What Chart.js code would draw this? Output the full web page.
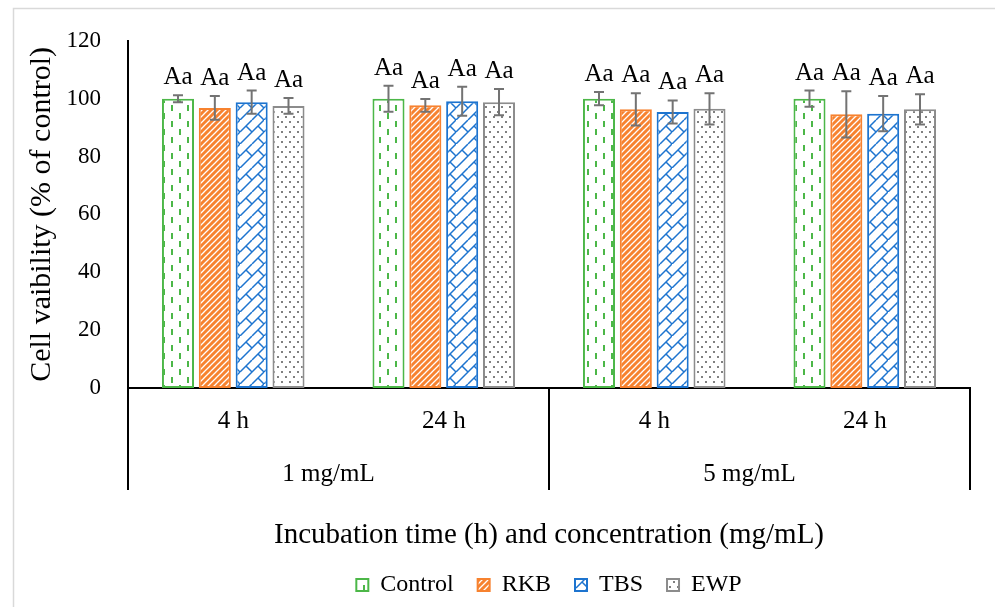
<!DOCTYPE html>
<html><head><meta charset="utf-8">
<script src="https://cdn.jsdelivr.net/npm/chart.js@4/dist/chart.umd.min.js"></script>
<style>html,body{margin:0;padding:0;background:#fff}</style>
</head><body>
<canvas id="c" width="995" height="607"></canvas>
<script>
// ---------- data ----------
const categories = ['4 h', '24 h', '4 h', '24 h'];
const concentrations = ['1 mg/mL', '5 mg/mL'];
const seriesNames = ['Control', 'RKB', 'TBS', 'EWP'];
const controlValues = [100, 100, 100, 100];
const rkbValues = [96.8, 97.7, 96.3, 94.6];
const tbsValues = [98.8, 99.1, 95.4, 94.8];
const ewpValues = [97.5, 98.8, 96.5, 96.3];
const controlErrors = [1.2, 4.5, 2.3, 2.8];
const rkbErrors = [4.1, 2.2, 5.6, 8.0];
const tbsErrors = [4.0, 5.0, 4.0, 6.1];
const ewpErrors = [2.7, 4.5, 5.4, 5.2];
const controlLetters = ['Aa', 'Aa', 'Aa', 'Aa'];
const rkbLetters = ['Aa', 'Aa', 'Aa', 'Aa'];
const tbsLetters = ['Aa', 'Aa', 'Aa', 'Aa'];
const ewpLetters = ['Aa', 'Aa', 'Aa', 'Aa'];
const yMin = 0, yMax = 120, yStep = 20;
const yTitle = 'Cell vaibility (% of control)';
const xTitle = 'Incubation time (h) and concentration (mg/mL)';

// ---------- styles ----------
const FONT = '"Liberation Serif", "Times New Roman", serif';
const GREEN = '#4cb748', ORANGE = '#f7822f', BLUE = '#1d74cf', GRAY = '#8c8c8c';

function tile(w, h, draw) {
  const c = document.createElement('canvas');
  c.width = w; c.height = h;
  const g = c.getContext('2d');
  draw(g);
  return document.getElementById('c').getContext('2d').createPattern(c, 'repeat');
}
const patControl = tile(16, 16, g => {
  g.fillStyle = '#fff'; g.fillRect(0, 0, 16, 16);
  g.fillStyle = GREEN;
  g.fillRect(3, 1, 2, 6);
  g.fillRect(11, 9, 2, 6);
});
const patRKB = tile(6, 6, g => {
  g.fillStyle = ORANGE; g.fillRect(0, 0, 6, 6);
  g.strokeStyle = '#fff'; g.lineWidth = 1.3;
  g.beginPath();
  g.moveTo(-1, 7); g.lineTo(7, -1);
  g.moveTo(-4, 4); g.lineTo(4, -4);
  g.moveTo(2, 10); g.lineTo(10, 2);
  g.stroke();
});
const patTBS = tile(24, 24, g => {
  g.fillStyle = '#fff'; g.fillRect(0, 0, 24, 24);
  g.strokeStyle = BLUE; g.lineWidth = 1.5;
  g.beginPath();
  g.moveTo(0, 12); g.lineTo(12, 0);
  g.moveTo(0, 24); g.lineTo(24, 0);
  g.moveTo(12, 24); g.lineTo(24, 12);
  g.moveTo(6, 6); g.lineTo(12, 12);
  g.moveTo(18, 6); g.lineTo(24, 12);
  g.moveTo(-6, 6); g.lineTo(0, 12);
  g.moveTo(6, 30); g.lineTo(12, 36);
  g.moveTo(18, 18); g.lineTo(24, 24);
  g.moveTo(-6, 18); g.lineTo(0, 24);
  g.stroke();
});
const patEWP = tile(8, 10, g => {
  g.fillStyle = '#fff'; g.fillRect(0, 0, 8, 10);
  g.fillStyle = '#808080';
  g.fillRect(1, 1, 2, 2);
  g.fillRect(5, 6, 2, 2);
});

function ds(label, data, errors, letters, bg, border) {
  return { label, data, errors, letters, backgroundColor: bg, borderColor: border,
           borderWidth: 2, borderSkipped: false,
           categoryPercentage: 0.7, barPercentage: 0.87 };
}

// ---------- plugins ----------
const framePlugin = {
  id: 'frame',
  beforeDraw(chart) {
    const { ctx } = chart;
    ctx.save();
    ctx.strokeStyle = '#d9d9d9'; ctx.lineWidth = 1.5;
    ctx.beginPath();
    ctx.moveTo(13.5, chart.height); ctx.lineTo(13.5, 8.5); ctx.lineTo(chart.width, 8.5);
    ctx.stroke();
    ctx.restore();
  }
};

const errorPlugin = {
  id: 'errorBars',
  afterDatasetsDraw(chart) {
    const { ctx } = chart;
    const y = chart.scales.y;
    chart.data.datasets.forEach((d, di) => {
      const meta = chart.getDatasetMeta(di);
      meta.data.forEach((bar, i) => {
        const v = d.data[i], e = d.errors[i];
        const yt = y.getPixelForValue(v + e), yb = y.getPixelForValue(v - e);
        ctx.save();
        ctx.strokeStyle = '#737373'; ctx.lineWidth = 2;
        ctx.beginPath();
        ctx.moveTo(bar.x, yt); ctx.lineTo(bar.x, yb);
        ctx.moveTo(bar.x - 5, yt); ctx.lineTo(bar.x + 5, yt);
        ctx.moveTo(bar.x - 5, yb); ctx.lineTo(bar.x + 5, yb);
        ctx.stroke();
        ctx.fillStyle = '#000';
        ctx.font = '25px ' + FONT;
        ctx.textAlign = 'center'; ctx.textBaseline = 'alphabetic';
        ctx.fillText(d.letters[i], bar.x, yt - 11);
        ctx.restore();
      });
    });
  }
};

const groupAxisPlugin = {
  id: 'groupAxis',
  afterDraw(chart) {
    const { ctx, chartArea } = chart;
    const x = chart.scales.x;
    const bottom = chartArea.bottom, ext = bottom + 102;
    const mid = (x.getPixelForValue(1) + x.getPixelForValue(2)) / 2;
    ctx.save();
    ctx.strokeStyle = '#000'; ctx.lineWidth = 2;
    ctx.beginPath();
    ctx.moveTo(chartArea.left, bottom); ctx.lineTo(chartArea.left, ext);
    ctx.moveTo(mid, bottom); ctx.lineTo(mid, ext);
    ctx.moveTo(chartArea.right, bottom); ctx.lineTo(chartArea.right, ext);
    ctx.stroke();
    ctx.fillStyle = '#000';
    ctx.font = '25px ' + FONT;
    ctx.textAlign = 'center'; ctx.textBaseline = 'middle';
    concentrations.forEach((c, k) => {
      const cx = (x.getPixelForValue(2 * k) + x.getPixelForValue(2 * k + 1)) / 2;
      ctx.fillText(c, cx - 10, bottom + 86);
    });
    ctx.restore();
  }
};

new Chart(document.getElementById('c'), {
  type: 'bar',
  data: {
    labels: categories,
    datasets: [
      ds(seriesNames[0], controlValues, controlErrors, controlLetters, patControl, GREEN),
      ds(seriesNames[1], rkbValues, rkbErrors, rkbLetters, patRKB, ORANGE),
      ds(seriesNames[2], tbsValues, tbsErrors, tbsLetters, patTBS, BLUE),
      ds(seriesNames[3], ewpValues, ewpErrors, ewpLetters, patEWP, GRAY)
    ]
  },
  options: {
    responsive: false,
    devicePixelRatio: 1,
    animation: false,
    layout: { padding: { left: 0, right: 25, top: 38, bottom: 0 } },
    plugins: {
      tooltip: { enabled: false },
      legend: {
        position: 'bottom',
        fullSize: false,
        labels: {
          font: { family: FONT, size: 24 },
          color: '#000',
          boxWidth: 12, boxHeight: 12,
          padding: 24
        }
      }
    },
    scales: {
      x: {
        grid: { display: false, drawTicks: false },
        border: { display: true, color: '#000', width: 2 },
        ticks: { font: { family: FONT, size: 25 }, color: '#000', padding: 18, maxRotation: 0 },
        title: { display: true, text: xTitle, font: { family: FONT, size: 29 }, color: '#000', padding: { top: 0, bottom: -4 } },
        afterFit(s) { s.height = 161; }
      },
      y: {
        min: yMin, max: yMax,
        grid: { display: false, drawTicks: false },
        border: { display: true, color: '#000', width: 2 },
        ticks: { stepSize: yStep, font: { family: FONT, size: 23 }, color: '#000', padding: 27 },
        title: { display: true, text: yTitle, font: { family: FONT, size: 30 }, color: '#000', padding: { top: 24, bottom: 0 } },
        afterFit(s) { s.width = 128; }
      }
    }
  },
  plugins: [framePlugin, errorPlugin, groupAxisPlugin]
});
</script>
</body></html>
